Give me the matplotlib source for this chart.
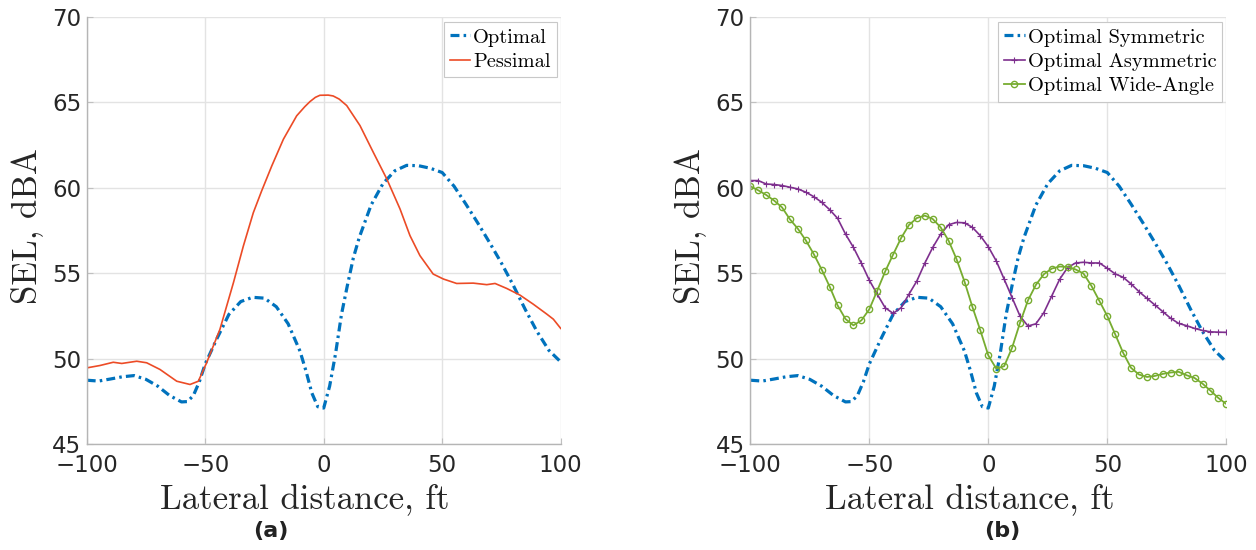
import numpy as np
import matplotlib
matplotlib.use("Agg")
import matplotlib.pyplot as plt

# ---------------- data ----------------
opt_x = [-100, -95, -90, -85, -80, -75, -70, -65, -60, -57.5, -55, -52.5, -50, -45, -40,
         -35, -30, -25, -20, -15, -10, -7.5, -5, -2.5, 0, 2.5, 5, 7.5, 10, 12.5, 15, 20,
         25, 30, 35, 40, 45, 50, 55, 60, 65, 70, 75, 80, 85, 90, 95, 100]
opt_y = [48.75, 48.7, 48.82, 48.95, 49.02, 48.8, 48.4, 47.85, 47.48, 47.5, 47.85, 48.65,
         49.7, 51.2, 52.6, 53.35, 53.6, 53.55, 53.05, 52.05, 50.45, 49.3, 48.0, 47.2,
         47.12, 48.4, 50.3, 52.6, 54.3, 55.9, 57.1, 59.0, 60.25, 61.0, 61.32, 61.3, 61.15,
         60.9, 60.1, 59.05, 57.95, 56.8, 55.6, 54.3, 52.9, 51.6, 50.5, 49.82]

pes_x = [-100, -94.4, -88.8, -85.2, -78.9, -74.7, -69.1, -62, -56.4, -52.9, -49.4, -43.8,
         -38.1, -33.9, -29.7, -26.2, -21.9, -17, -11.4, -8, -5.8, -3.5, -1.6, 1.9, 4, 6.5,
         9.7, 15.3, 20.9, 26.6, 32.2, 36.4, 40.6, 46.2, 50.5, 56.1, 63.1, 68.8, 72.3, 77.2,
         82.8, 88.4, 94.1, 96.9, 100]
pes_y = [49.47, 49.61, 49.8, 49.73, 49.86, 49.77, 49.38, 48.69, 48.5, 48.69, 49.77, 51.72,
         54.45, 56.6, 58.55, 59.82, 61.29, 62.85, 64.22, 64.75, 65.05, 65.3, 65.42, 65.43,
         65.38, 65.2, 64.82, 63.65, 62.09, 60.53, 58.77, 57.21, 56.04, 54.96, 54.67, 54.41,
         54.43, 54.34, 54.41, 54.12, 53.73, 53.2, 52.62, 52.32, 51.78]

mk_x = np.linspace(-100, 100, 61)
asym_y = [60.43, 60.43, 60.23, 60.2, 60.14, 60.04, 59.94, 59.75, 59.49, 59.16, 58.73,
          58.22, 57.3, 56.52, 55.6, 54.6, 53.78, 52.99, 52.66, 52.99, 53.78, 54.56, 55.6,
          56.52, 57.3, 57.85, 57.98, 57.96, 57.69, 57.2, 56.56, 55.73, 54.66, 53.58, 52.5,
          51.92, 52.05, 52.7, 53.68, 54.66, 55.34, 55.61, 55.65, 55.61, 55.61, 55.3, 54.97,
          54.77, 54.38, 53.93, 53.54, 53.15, 52.76, 52.37, 52.07, 51.94, 51.78, 51.66,
          51.58, 51.56, 51.55]
wide_y = [60.1, 59.86, 59.59, 59.26, 58.86, 58.16, 57.61, 56.93, 56.13, 55.22, 54.23,
          53.13, 52.33, 51.96, 52.25, 52.9, 53.99, 55.11, 56.1, 57.06, 57.83, 58.24, 58.38,
          58.18, 57.69, 56.91, 55.83, 54.52, 53.03, 51.66, 50.2, 49.43, 49.57, 50.65, 52.11,
          53.42, 54.33, 54.95, 55.28, 55.4, 55.38, 55.23, 54.99, 54.27, 53.39, 52.5, 51.43,
          50.35, 49.47, 49.08, 48.94, 49.0, 49.12, 49.2, 49.24, 49.04, 48.88, 48.55, 48.14,
          47.71, 47.36]

xticks = [-100, -50, 0, 50, 100]
yticks = [45, 50, 55, 60, 65, 70]

# ---------------- style ----------------
BLUE = "#0072BD"
RED = "#EC4B26"
PURPLE = "#7E2F8E"
GREEN = "#77AC30"
SERIF = "cmr10"
dashdot = (0, (2.8, 1.3, 0.8, 1.3))

fig = plt.figure(figsize=(12.56, 5.5), dpi=100)
axL = fig.add_axes([86.7 / 1256, 1 - 444.3 / 550, 474 / 1256, 427.3 / 550])
axR = fig.add_axes([750.3 / 1256, 1 - 444.3 / 550, 476 / 1256, 427.3 / 550])


def style(ax):
    ax.set_xlim(-100, 100)
    ax.set_ylim(45, 70)
    ax.set_xticks(xticks)
    ax.set_yticks(yticks)
    ax.grid(True, color="#e3e3e3", linewidth=1.0)
    ax.set_axisbelow(True)
    for s in ["top", "right"]:
        ax.spines[s].set_visible(False)
    for s in ["left", "bottom"]:
        ax.spines[s].set_color("#b5b5b5")
        ax.spines[s].set_linewidth(1.0)
    ax.tick_params(direction="in", length=4, color="#c0c0c0", labelsize=16.5,
                   labelcolor="#262626")
    ax.tick_params(axis="x", pad=7)
    ax.tick_params(axis="y", pad=4)
    ax.set_xlabel("Lateral distance, ft", family=SERIF, fontsize=25, color="#262626")
    ax.set_ylabel("SEL, dBA", family=SERIF, fontsize=25, color="#262626")
    ax.xaxis.set_label_coords(0.46, -0.094)
    ax.yaxis.set_label_coords(-0.092, 0.51)


style(axL)
style(axR)

axL.plot(opt_x, opt_y, color=BLUE, lw=2.3, linestyle=dashdot, label="Optimal")
axL.plot(pes_x, pes_y, color=RED, lw=1.2, label="Pessimal")

axR.plot(opt_x, opt_y, color=BLUE, lw=2.3, linestyle=dashdot, label="Optimal Symmetric")
axR.plot(mk_x, asym_y, color=PURPLE, lw=1.2, marker="+", ms=4, mew=0.8,
         label="Optimal Asymmetric")
axR.plot(mk_x, wide_y, color=GREEN, lw=1.3, marker="o", ms=4.5, mfc="none", mew=1.0,
         label="Optimal Wide-Angle")

for ax in (axL, axR):
    leg = ax.legend(loc="upper right", bbox_to_anchor=(0.992, 0.988), borderaxespad=0,
                    prop={"family": SERIF, "size": 14.7}, handlelength=1.0,
                    handletextpad=0.15, labelspacing=0.3, borderpad=0.3,
                    fancybox=False, framealpha=1, edgecolor="#c8c8c8")
    leg.get_frame().set_linewidth(0.8)

fig.text(271 / 1256, 1 - 531 / 550, "(a)", ha="center", va="center",
         fontsize=16, fontweight="bold", color="#222222")
fig.text(1002 / 1256, 1 - 531 / 550, "(b)", ha="center", va="center",
         fontsize=16, fontweight="bold", color="#222222")

fig.savefig("out.png", dpi=100)
